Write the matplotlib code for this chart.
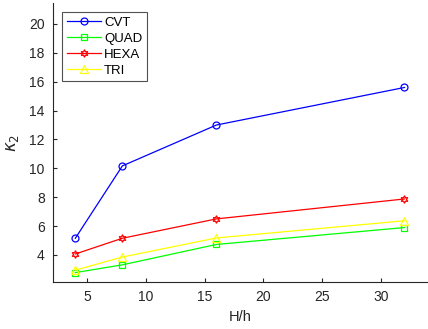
import matplotlib
matplotlib.use("Agg")
import matplotlib.pyplot as plt

x = [4, 8, 16, 32]
cvt = [5.16, 10.17, 13.0, 15.6]
quad = [2.78, 3.32, 4.73, 5.9]
hexa = [4.07, 5.16, 6.5, 7.88]
tri = [2.95, 3.86, 5.18, 6.37]

plt.rcParams['font.family'] = ['Liberation Sans', 'DejaVu Sans']
fig = plt.figure(figsize=(4.28, 3.29), dpi=100)
ax = fig.add_axes([53/428, 1-282/329, 1-53/428, (282-3)/329])

kw = dict(mfc='none', lw=0.9, mew=0.9)
ax.plot(x, cvt, color='#0000ff', marker='o', ms=5, label='CVT', **kw)
ax.plot(x, quad, color='#00ff00', marker='s', ms=4.2, label='QUAD', **kw)
ax.plot(x, hexa, color='#ff0000', marker=(6, 1, 0), ms=5.5, label='HEXA', **kw)
ax.plot(x, tri, color='#ffff00', marker='^', ms=5.5, label='TRI', **kw)

ax.set_xlim(2.1, 34)
ax.set_ylim(2.13, 21.45)
ax.set_xticks([5, 10, 15, 20, 25, 30])
ax.set_yticks([4, 6, 8, 10, 12, 14, 16, 18, 20])
for s in ['top', 'right']:
    ax.spines[s].set_visible(False)
for s in ['left', 'bottom']:
    ax.spines[s].set_color('#262626')
ax.tick_params(direction='in', length=3, labelsize=10, colors='#262626', pad=6)
ax.set_xlabel('H/h', fontsize=10.5, color='#262626', labelpad=4)
ax.set_ylabel(r'$\kappa_2$', fontsize=12, color='#262626', labelpad=6)
leg = ax.legend(loc='upper left', bbox_to_anchor=(9/375, 1-9/279), fontsize=9.5,
                fancybox=False, edgecolor='#262626', handlelength=2.6,
                handletextpad=0.25, borderpad=0.35, labelspacing=0.28, borderaxespad=0)
leg.get_frame().set_linewidth(0.8)
fig.savefig('out.png', dpi=100)
